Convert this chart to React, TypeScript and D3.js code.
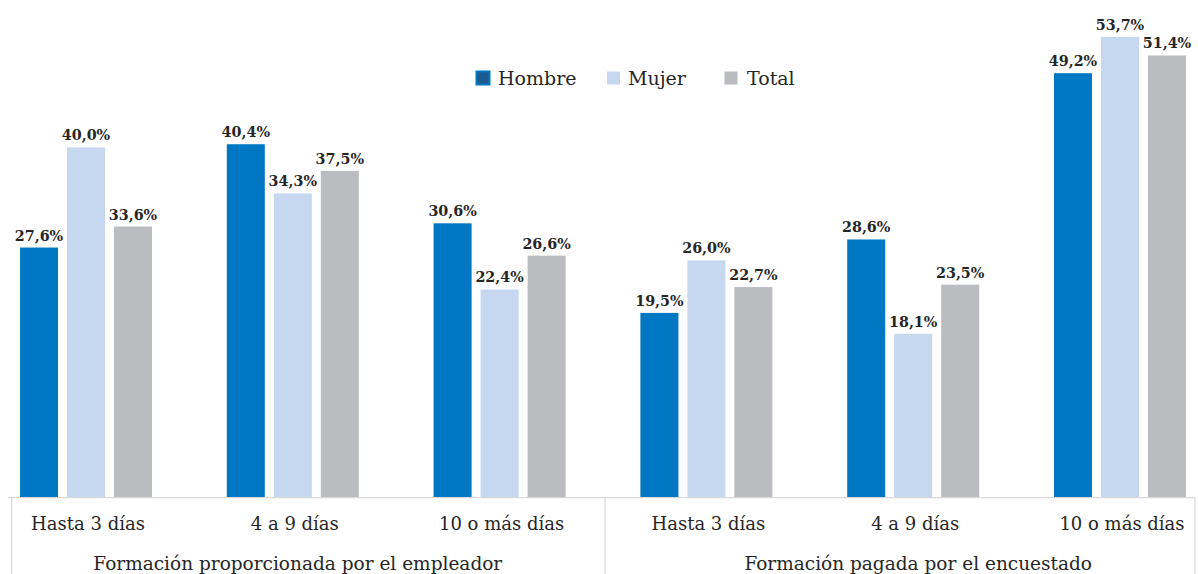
import React from "react";
import * as d3 from "d3";

const categories = ["Hasta 3 días", "4 a 9 días", "10 o más días", "Hasta 3 días", "4 a 9 días", "10 o más días"];
const groups = ["Formación proporcionada por el empleador", "Formación pagada por el encuestado"];
const seriesNames = ["Hombre", "Mujer", "Total"];
// bar heights
const hombre = [27.6, 40.4, 30.6, 19.5, 28.6, 49.2];
const mujer = [40.0, 34.3, 22.4, 26.0, 16.9, 53.7];
const total = [30.2, 37.1, 26.6, 22.7, 23.0, 51.4];
// label texts as printed
const hombreLabels = ["27,6%", "40,4%", "30,6%", "19,5%", "28,6%", "49,2%"];
const mujerLabels = ["40,0%", "34,3%", "22,4%", "26,0%", "18,1%", "53,7%"];
const totalLabels = ["33,6%", "37,5%", "26,6%", "22,7%", "23,5%", "51,4%"];

const W = 1198;
const H = 574;
const colors = ["#0077C2", "#C5D8EF", "#BBBCC0"];
const serif = "'DejaVu Serif', serif";

export default function App() {
  const yMin = -3.4;
  const yMax = 58;
  const axisY = 497.7;
  const y = d3.scaleLinear().domain([yMin, yMax]).range([axisY, axisY - (yMax - yMin) * 8.07]);
  const x = d3.scaleBand<number>().domain(d3.range(categories.length)).range([-17.4, 1223.4]).paddingInner(0).paddingOuter(0);
  const sub = d3.scaleBand<string>().domain(seriesNames).range([-66, 66]).paddingInner(9 / 47);
  const values = [hombre, mujer, total];
  const labels = [hombreLabels, mujerLabels, totalLabels];
  const cx = (i: number) => (x(i) as number) + x.bandwidth() / 2;

  const legendItems = [
    { name: "Hombre", sq: 476.5, tx: 498 },
    { name: "Mujer", sq: 607, tx: 628 },
    { name: "Total", sq: 724.5, tx: 747 },
  ];

  return (
    <svg width={W} height={H} style={{ position: "absolute", left: 0, top: 0, background: "#fff" }}>
      <rect width={W} height={H} fill="#fff" />
      {values.map((vals, s) =>
        vals.map((v, i) => {
          const bx = cx(i) + (sub(seriesNames[s]) as number);
          return (
            <g key={`b${s}-${i}`}>
              <rect x={bx} y={y(v)} width={sub.bandwidth()} height={y(yMin) - y(v)} fill={colors[s]} />
              <text
                x={bx + sub.bandwidth() / 2}
                y={y(v) - 7}
                textAnchor="middle"
                fontFamily={serif}
                fontWeight="bold"
                fontSize={14.3}
                fill="#262626"
              >
                {labels[s][i]}
              </text>
            </g>
          );
        })
      )}
      <line x1={8} x2={1195} y1={axisY} y2={axisY} stroke="#D9D9D9" strokeWidth={1.2} />
      {[11.7, 605, 1195].map((lx, k) => (
        <line key={`d${k}`} x1={lx} x2={lx} y1={axisY} y2={574} stroke="#D9D9D9" strokeWidth={1.2} />
      ))}
      {categories.map((c, i) => (
        <text key={`c${i}`} x={cx(i) + 2} y={529.5} textAnchor="middle" fontFamily={serif} fontSize={18} fill="#262626">
          {c}
        </text>
      ))}
      {groups.map((g, k) => (
        <text key={`g${k}`} x={cx(k * 3 + 1) + 5} y={570} textAnchor="middle" fontFamily={serif} fontSize={18.5} fill="#262626">
          {g}
        </text>
      ))}
      {legendItems.map((it, k) => (
        <g key={`l${k}`}>
          <rect
            x={it.sq}
            y={71.5}
            width={13}
            height={13}
            fill={k === 0 ? "#1F5A8C" : colors[k]}
            stroke={k === 0 ? "#0077C2" : "none"}
            strokeWidth={k === 0 ? 2 : 0}
          />
          <text x={it.tx} y={85} fontFamily={serif} fontSize={19} fill="#262626">
            {it.name}
          </text>
        </g>
      ))}
    </svg>
  );
}
